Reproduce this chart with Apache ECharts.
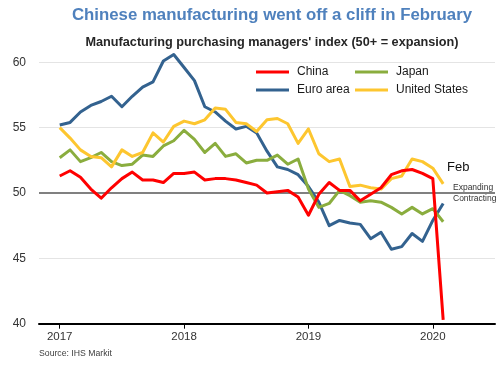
<!DOCTYPE html>
<html>
<head>
<meta charset="utf-8">
<script src="https://cdn.jsdelivr.net/npm/echarts@6/dist/echarts.min.js"></script>
<style>html,body{margin:0;padding:0;background:#fff;}#c{width:500px;height:365px;}</style>
</head>
<body>
<div id="c"></div>
<script>
const months = ['2017-01','2017-02','2017-03','2017-04','2017-05','2017-06','2017-07','2017-08','2017-09','2017-10','2017-11','2017-12',
  '2018-01','2018-02','2018-03','2018-04','2018-05','2018-06','2018-07','2018-08','2018-09','2018-10','2018-11','2018-12',
  '2019-01','2019-02','2019-03','2019-04','2019-05','2019-06','2019-07','2019-08','2019-09','2019-10','2019-11','2019-12',
  '2020-01','2020-02'];
const china = [51.3,51.7,51.2,50.3,49.6,50.4,51.1,51.6,51.0,51.0,50.8,51.5,
  51.5,51.6,51.0,51.1,51.1,51.0,50.8,50.6,50.0,50.1,50.2,49.7,
  48.3,49.9,50.8,50.2,50.2,49.4,49.9,50.4,51.4,51.7,51.8,51.5,
  51.1,40.3];
const euroArea = [55.2,55.4,56.2,56.7,57.0,57.4,56.6,57.4,58.1,58.5,60.1,60.6,
  59.6,58.6,56.6,56.2,55.5,54.9,55.1,54.6,53.2,52.0,51.8,51.4,
  50.5,49.3,47.5,47.9,47.7,47.6,46.5,47.0,45.7,45.9,46.9,46.3,
  47.9,49.2];
const japan = [52.7,53.3,52.4,52.7,53.1,52.4,52.1,52.2,52.9,52.8,53.6,54.0,
  54.8,54.1,53.1,53.8,52.8,53.0,52.3,52.5,52.5,52.9,52.2,52.6,
  50.3,48.9,49.2,50.2,49.8,49.3,49.4,49.3,48.9,48.4,48.9,48.4,
  48.8,47.8];
const unitedStates = [55.0,54.2,53.3,52.8,52.7,52.0,53.3,52.8,53.1,54.6,53.9,55.1,
  55.5,55.3,55.6,56.5,56.4,55.4,55.3,54.7,55.6,55.7,55.3,53.8,
  54.9,53.0,52.4,52.6,50.5,50.6,50.4,50.3,51.1,51.3,52.6,52.4,
  51.9,50.7];
const yearLabels = ['2017','2018','2019','2020'];
const yearTickIdx = [0,12,24,36];
const yTicks = [40,45,50,55,60];

const toPairs = arr => arr.map((v,i) => [i, v]);
const FONT = 'Liberation Sans, Arial, sans-serif';

const chart = echarts.init(document.getElementById('c'), null, {renderer:'canvas'});
function mkSeries(name, arr, color, extra) {
  return Object.assign({
    name: name, type: 'line', data: toPairs(arr), symbol: 'none', clip: false,
    lineStyle: {width: 3, color: color, join: 'round'}, itemStyle: {color: color},
    emphasis: {disabled: true}
  }, extra || {});
}
chart.setOption({
  animation: false,
  textStyle: {fontFamily: FONT},
  title: [
    {text: 'Chinese manufacturing went off a cliff in February', left: 267, textAlign: 'center', top: 2,
     textStyle: {fontSize: 16.8, fontWeight: 'bold', color: '#4f81bd', fontFamily: FONT}},
    {text: "Manufacturing purchasing managers' index (50+ = expansion)", left: 267, textAlign: 'center', top: 31,
     textStyle: {fontSize: 12.7, fontWeight: 'bold', color: '#262626', fontFamily: FONT}}
  ],
  legend: [
    {data: ['China','Euro area'], orient: 'vertical', left: 251, top: 60, icon: 'rect', itemWidth: 33, itemHeight: 3,
     itemGap: 4, textStyle: {fontSize: 12, color: '#1a1a1a', lineHeight: 14, padding: [0,0,0,3]}},
    {data: ['Japan','United States'], orient: 'vertical', left: 350, top: 60, icon: 'rect', itemWidth: 33, itemHeight: 3,
     itemGap: 4, textStyle: {fontSize: 12, color: '#1a1a1a', lineHeight: 14, padding: [0,0,0,3]}}
  ],
  grid: {left: 39, right: 5, top: 62.3, bottom: 41.3, containLabel: false},
  xAxis: {
    type: 'value', min: -2, max: 42,
    axisLine: {show: true, lineStyle: {color: '#000', width: 2}},
    axisTick: {show: true, customValues: yearTickIdx, length: 5, lineStyle: {color: '#000', width: 1}},
    axisLabel: {customValues: yearTickIdx, formatter: v => yearLabels[yearTickIdx.indexOf(v)] || '',
      fontSize: 11.5, color: '#333', margin: 7},
    splitLine: {show: false}
  },
  yAxis: {
    type: 'value', min: 40, max: 60, interval: 5,
    axisLine: {show: false}, axisTick: {show: false},
    axisLabel: {fontSize: 12, color: '#333', margin: 13},
    splitLine: {show: true, lineStyle: {color: '#e4e4e4', width: 1}}
  },
  series: [
    mkSeries('Euro area', euroArea, '#33628f', {
      markLine: {silent: true, symbol: 'none', label: {show: false}, z: 1,
        lineStyle: {color: '#808080', width: 2, type: 'solid'}, data: [{yAxis: 50}]}
    }),
    mkSeries('Japan', japan, '#8aad3e'),
    mkSeries('United States', unitedStates, '#fdc62f'),
    mkSeries('China', china, '#ff0000')
  ],
  graphic: [
    {type: 'text', left: 447, top: 161, style: {text: 'Feb', fontSize: 13, fill: '#111', font: '13px ' + FONT}},
    {type: 'text', left: 453, top: 183, style: {text: 'Expanding', fill: '#333', font: '8.5px ' + FONT}},
    {type: 'text', left: 453, top: 194, style: {text: 'Contracting', fill: '#333', font: '8.5px ' + FONT}},
    {type: 'text', left: 39, top: 349, style: {text: 'Source: IHS Markit', fill: '#404040', font: '8.7px ' + FONT}}
  ]
});
</script>
</body>
</html>
